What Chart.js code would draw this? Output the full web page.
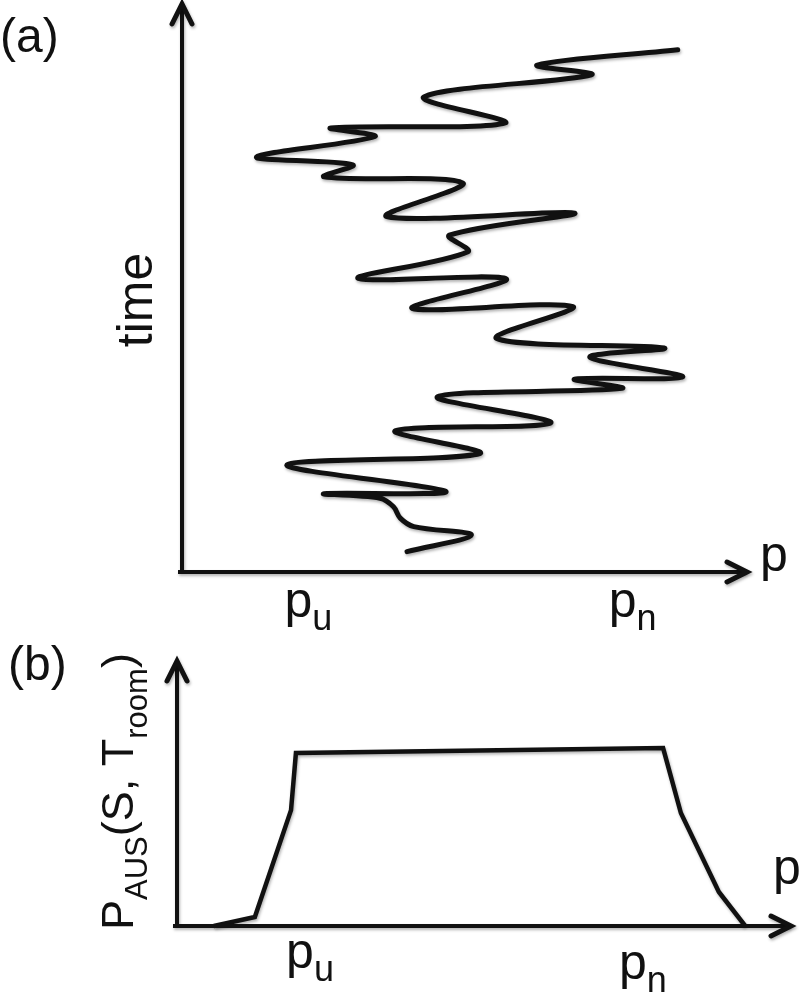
<!DOCTYPE html>
<html>
<head>
<meta charset="utf-8">
<script src="https://cdn.jsdelivr.net/npm/chart.js@4.4.1/dist/chart.umd.min.js"></script>
<style>
  body { margin: 0; background: #fff; }
  #wrap { position: relative; width: 800px; height: 992px; }
  #top-chart { position: absolute; left: 0; top: 0; }
  #bottom-chart { position: absolute; left: 0; top: 640px; }
</style>
</head>
<body>
<div id="wrap">
  <canvas id="top-chart" width="800" height="640"></canvas>
  <canvas id="bottom-chart" width="800" height="352"></canvas>
</div>
<script>
// (a) path of p over time (axis units 0..10)
const walkP    = [3.99, 5.13, 4.11, 3.87, 3.75, 3.51, 2.52, 4.68, 1.86, 5.28, 3.78, 6.54, 4.53, 7.80, 6.96, 8.88, 7.23, 8.55, 5.58, 6.93, 4.08, 5.75, 3.12, 5.07, 4.74, 6.96, 3.63, 4.98, 2.52, 3.03, 1.32, 3.42, 2.64, 5.73, 4.29, 7.26, 6.30, 8.79];
const walkTime = [0.36, 0.65, 0.80, 0.95, 1.15, 1.30, 1.38, 1.42, 1.89, 2.09, 2.49, 2.63, 3.09, 3.24, 3.40, 3.44, 3.79, 3.95, 4.12, 4.68, 4.65, 5.17, 5.18, 5.65, 5.94, 6.33, 6.27, 6.86, 6.97, 7.18, 7.32, 7.68, 7.83, 7.92, 8.38, 8.77, 8.94, 9.21];

// (b) P_AUS profile against p (value 0..1)
const profileP     = [0.60, 1.27, 1.86, 1.94, 7.93, 8.22, 8.84, 9.27];
const profileValue = [0, 0.034, 0.439, 0.655, 0.674, 0.428, 0.129, 0];

// tick positions for p_u and p_n
const tickLabels  = [['p', 'u'], ['p', 'n']];
const topTicks    = [2.24, 7.99];
const bottomTicks = [2.17, 7.60];

const FONT = '"Liberation Sans", Arial, Helvetica, sans-serif';
const INK = '#111';

// draw text made of pieces, some of them subscripts
function drawPieces(ctx, pieces, x, y, align) {
  let total = 0;
  pieces.forEach(p => {
    ctx.font = `${p.size}px ${FONT}`;
    p.w = ctx.measureText(p.text).width;
    total += p.w;
  });
  let cx = align === 'center' ? x - total / 2 : x;
  ctx.textAlign = 'left';
  ctx.textBaseline = 'alphabetic';
  pieces.forEach(p => {
    ctx.font = `${p.size}px ${FONT}`;
    ctx.fillText(p.text, cx, y + (p.drop || 0));
    cx += p.w;
  });
}

function setShadow(ctx) {
  ctx.shadowColor = 'rgba(0,0,0,0.3)';
  ctx.shadowBlur = 3;
  ctx.shadowOffsetX = 1;
  ctx.shadowOffsetY = 2;
}

const softShadow = {
  id: 'softShadow',
  beforeDatasetsDraw(chart) { chart.ctx.save(); setShadow(chart.ctx); },
  afterDatasetsDraw(chart) { chart.ctx.restore(); }
};

// axes with open arrow heads, p_u / p_n labels and the rest of the text
const sketchAxes = {
  id: 'sketchAxes',
  afterDraw(chart, args, opts) {
    const { ctx, chartArea: a, scales } = chart;
    ctx.save();
    setShadow(ctx);
    ctx.strokeStyle = INK;
    ctx.lineWidth = opts.axisWidth;
    ctx.lineCap = 'butt';
    ctx.beginPath();
    ctx.moveTo(a.left, a.bottom + 2);
    ctx.lineTo(a.left, a.top);
    ctx.moveTo(a.left - 4, a.bottom);
    ctx.lineTo(a.right, a.bottom);
    ctx.stroke();

    ctx.lineWidth = opts.axisWidth + 1;
    ctx.lineCap = 'round';
    ctx.lineJoin = 'miter';
    ctx.beginPath();
    ctx.moveTo(a.left - 10, a.top + 19);
    ctx.lineTo(a.left, a.top - 1);
    ctx.lineTo(a.left + 10, a.top + 19);
    ctx.moveTo(a.right - 19, a.bottom - 10);
    ctx.lineTo(a.right + 1, a.bottom);
    ctx.lineTo(a.right - 19, a.bottom + 10);
    ctx.stroke();
    ctx.restore();

    ctx.save();
    ctx.fillStyle = INK;
    opts.ticks.forEach((v, i) => {
      const x = scales.x.getPixelForValue(v);
      drawPieces(ctx, [
        { text: tickLabels[i][0], size: 50 },
        { text: tickLabels[i][1], size: 36, drop: 13 }
      ], x, opts.tickBaseline[i], 'center');
    });
    drawPieces(ctx, [{ text: 'p', size: 50 }], opts.pLabel[0], opts.pLabel[1]);
    drawPieces(ctx, [{ text: opts.panel, size: 48 }], opts.panelPos[0], opts.panelPos[1]);

    ctx.translate(opts.yTitlePos[0], opts.yTitlePos[1]);
    ctx.rotate(-Math.PI / 2);
    drawPieces(ctx, opts.yTitle, 0, 0, opts.yTitleAlign);
    ctx.restore();
  }
};

const hiddenScale = (min, max) => ({ type: 'linear', min, max, display: false });

new Chart(document.getElementById('top-chart'), {
  type: 'scatter',
  data: {
    datasets: [{
      data: walkP.map((p, i) => ({ x: p, y: walkTime[i] })),
      showLine: true,
      borderColor: INK,
      borderWidth: 5,
      borderCapStyle: 'round',
      borderJoinStyle: 'round',
      pointRadius: 0,
      tension: 0.35,
      clip: false
    }]
  },
  options: {
    responsive: false,
    animation: false,
    layout: { padding: { left: 182, right: 54, top: 5, bottom: 68 } },
    scales: { x: hiddenScale(0, 10), y: hiddenScale(0, 10) },
    plugins: {
      legend: { display: false },
      tooltip: { enabled: false },
      sketchAxes: {
        axisWidth: 4,
        ticks: topTicks,
        tickBaseline: [617, 617],
        pLabel: [760, 571],
        panel: '(a)',
        panelPos: [0, 52],
        yTitle: [{ text: 'time', size: 50 }],
        yTitlePos: [152, 300],
        yTitleAlign: 'center'
      }
    }
  },
  plugins: [softShadow, sketchAxes]
});

new Chart(document.getElementById('bottom-chart'), {
  type: 'scatter',
  data: {
    datasets: [{
      data: profileP.map((p, i) => ({ x: p, y: profileValue[i] })),
      showLine: true,
      borderColor: INK,
      borderWidth: 4.5,
      borderJoinStyle: 'miter',
      pointRadius: 0,
      tension: 0,
      clip: false
    }]
  },
  options: {
    responsive: false,
    animation: false,
    layout: { padding: { left: 177, right: 10, top: 22, bottom: 66 } },
    scales: { x: hiddenScale(0, 10), y: hiddenScale(0, 1) },
    plugins: {
      legend: { display: false },
      tooltip: { enabled: false },
      sketchAxes: {
        axisWidth: 4,
        ticks: bottomTicks,
        tickBaseline: [328, 339],
        pLabel: [773, 244],
        panel: '(b)',
        panelPos: [8, 40],
        yTitle: [
          { text: 'P', size: 45 },
          { text: 'AUS', size: 31, drop: 14 },
          { text: '(S, T', size: 45 },
          { text: 'room', size: 31, drop: 14 },
          { text: ')', size: 45 }
        ],
        yTitlePos: [133, 290],
        yTitleAlign: 'left'
      }
    }
  },
  plugins: [softShadow, sketchAxes]
});
</script>
</body>
</html>
